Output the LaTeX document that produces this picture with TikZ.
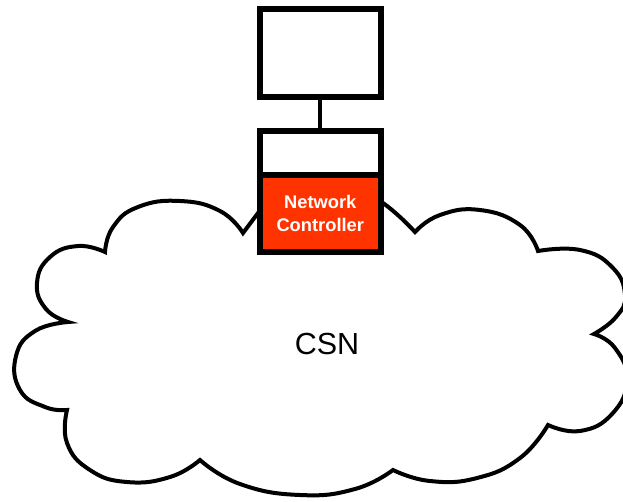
\documentclass[tikz,border=0pt]{standalone}
\usepackage{fontspec}
\setmainfont{Liberation Sans}
\definecolor{ncred}{RGB}{255,51,0}
\tikzset{
  boxstyle/.style={draw=black, line width=6pt, fill=white, inner sep=0pt, outer sep=0pt},
  redbox/.style={boxstyle, fill=ncred, text=white, font=\fontsize{18.3}{23}\selectfont\bfseries, align=center},
  connline/.style={line width=4pt},
  cloudline/.style={draw=black, line width=4pt, fill=white, line join=miter},
  lobe/.style={smooth, tension=0.8},
}
\begin{document}
\begin{tikzpicture}[x=1pt,y=-1pt]
\useasboundingbox (0,0) rectangle (623,501);
% cloud
\draw[cloudline] (270,197) -- (243,233)
 -- plot[lobe] coordinates {(243,233) (220,211) (180,201) (138,207) (113,227) (105,252)}
 -- plot[lobe] coordinates {(105,252) (78,246) (50,257) (37,283) (46,309) (68,322)}
 -- plot[lobe] coordinates {(68,322) (35,331) (16,356) (20,390) (45,407) (67,410)}
 -- plot[lobe] coordinates {(67,410) (67,443) (90,470) (127,482) (170,477) (200,460)}
 -- plot[lobe] coordinates {(200,460) (240,484) (300,495) (355,489) (393,470)}
 -- plot[lobe] coordinates {(393,470) (430,481) (477,478) (520,458) (548,425)}
 -- plot[lobe] coordinates {(548,425) (580,431) (612,414) (627,380) (615,348) (594,334)}
 -- plot[lobe] coordinates {(594,334) (616,317) (625,295) (612,267) (580,250) (538,251)}
 -- plot[lobe] coordinates {(538,251) (520,225) (480,210) (440,215) (415,232)}
 -- plot[lobe] coordinates {(415,232) (400,217) (383,203) (370,195)}
 -- cycle;
\node[font=\fontsize{30.5}{36}\selectfont] (csn) at (327,344) {CSN};
% boxes
\node[boxstyle, minimum width=120.5pt, minimum height=88pt] (top) at (320.25,53) {};
\node[boxstyle, minimum width=120.5pt, minimum height=44.5pt] (ctrltop) at (320.25,152.75) {};
\node[redbox, minimum width=120.5pt, minimum height=76.5pt] (ctrl) at (320.25,213.25) {Network\\Controller};
\draw[connline] (top.south) -- (ctrltop.north);
\end{tikzpicture}
\end{document}
